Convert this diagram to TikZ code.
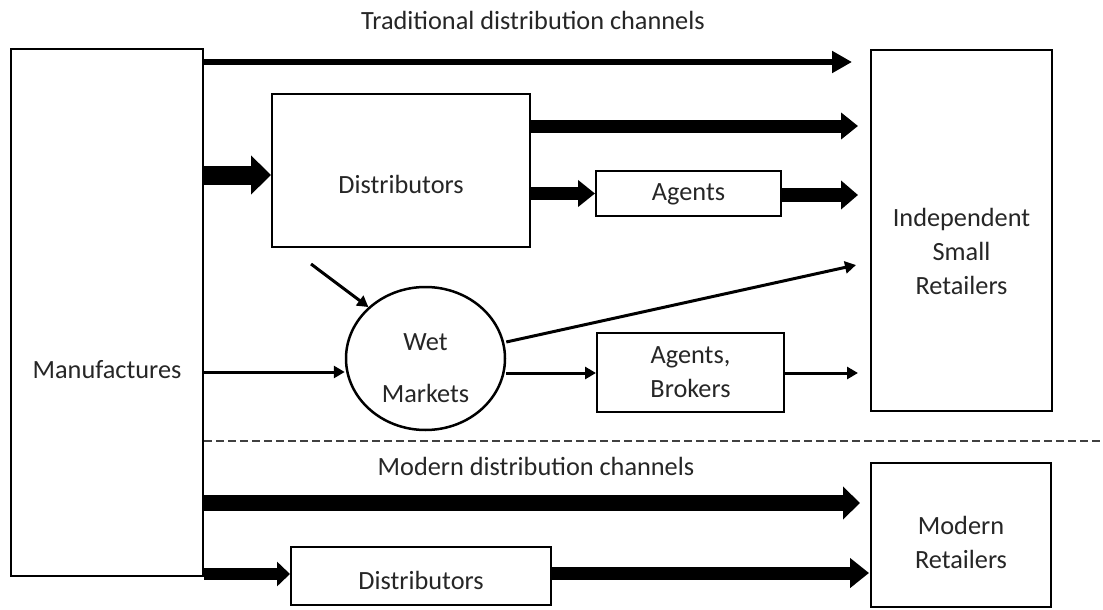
\documentclass[tikz,border=0pt]{standalone}
\usepackage{fontspec}
\setmainfont{Carlito}
\usetikzlibrary{arrows.meta,shapes.geometric}
\begin{document}
\begin{tikzpicture}[x=1pt,y=-1pt,
  box/.style={draw,line width=2pt,inner sep=0pt},
  txt/.style={inner sep=0pt,align=center,font=\fontsize{26.3}{34}\selectfont,text=black!85},
  thin/.style={line width=3pt,-{Triangle[length=11pt,width=12pt]}},
  mid/.style={line width=13pt,-{Triangle[length=17pt,width=26pt]}},
]
\useasboundingbox[fill=white] (0,0) rectangle (1103,610);

% titles
\node[txt] (ttrad) at (533,20) {Traditional distribution channels};
\node[txt] (tmod) at (536,466) {Modern distribution channels};

% boxes
\node[box,minimum width=192,minimum height=527] (manuf) at (107,312.5) {};
\node[txt] (manuft) at (107,370) {Manufactures};

\node[box,minimum width=258,minimum height=153] (dist1) at (401,170.5) {};
\node[txt] (dist1t) at (401,184) {Distributors};

\node[box,minimum width=185,minimum height=45] (agents) at (688.5,193.5) {};
\node[txt] (agentst) at (688.5,194) {Agents};

\node[draw,ellipse,line width=2.5pt,inner sep=0pt,minimum width=159,minimum height=143] (wet) at (425.5,358.5) {};
\node[txt] (wett1) at (425.5,342) {Wet};
\node[txt] (wett2) at (425.5,393) {Markets};

\node[box,minimum width=187,minimum height=79] (ab) at (690.5,372.5) {};
\node[txt] (abt) at (690.5,372) {Agents,\\Brokers};

\node[box,minimum width=181,minimum height=361] (isr) at (961.5,230.5) {};
\node[txt] (isrt) at (961.5,251) {Independent\\Small\\Retailers};

\node[box,minimum width=180,minimum height=144] (mr) at (961,535) {};
\node[txt] (mrt) at (961,542) {Modern\\Retailers};

\node[box,minimum width=260,minimum height=58] (dist2) at (421,576) {};
\node[txt] (dist2t) at (421,580) {Distributors};

% free arrow ends
\coordinate (e1) at (852,62);
\coordinate (e2) at (858,126);
\coordinate (e3) at (858,195);
\coordinate (e4) at (856,265);
\coordinate (e5) at (858,373);
\coordinate (e6) at (860,503);
\coordinate (e7) at (869,573);
\coordinate (ds) at (311,264);
\coordinate (dend) at (1103,441);

% traditional channels
\draw[line width=6.5pt,-{Triangle[length=20pt,width=21pt]}] (manuf.east |- e1) -- (e1);
\draw[line width=19pt,-{Triangle[length=20pt,width=38pt]}] (manuf.east |- 0,175) -- (dist1.west |- 0,175);
\draw[mid] (dist1.east |- e2) -- (e2);
\draw[mid] (dist1.east |- agents) -- (agents.west);
\draw[line width=14pt,-{Triangle[length=17pt,width=28pt]}] (agents.east |- e3) -- (e3);
\draw[thin] (ds) -- (wet.north west);
\draw[thin] (manuf.east |- 0,372) -- (wet.west |- 0,372);
\draw[thin] (wet.east |- 0,342) -- (e4);
\draw[thin] (wet.east |- 0,373) -- (ab.west |- 0,373);
\draw[thin] (ab.east |- e5) -- (e5);

% separator
\draw[dash pattern=on 8pt off 4pt,line width=1.2pt,black!75] (manuf.east |- dend) -- (dend);

% modern channels
\draw[line width=16pt,-{Triangle[length=17pt,width=32pt]}] (manuf.east |- e6) -- (e6);
\draw[line width=12pt,-{Triangle[length=13pt,width=24pt]}] (manuf.east |- 0,574) -- (dist2.west |- 0,574);
\draw[line width=13pt,-{Triangle[length=19pt,width=29pt]}] (dist2.east |- e7) -- (e7);
\end{tikzpicture}
\end{document}
